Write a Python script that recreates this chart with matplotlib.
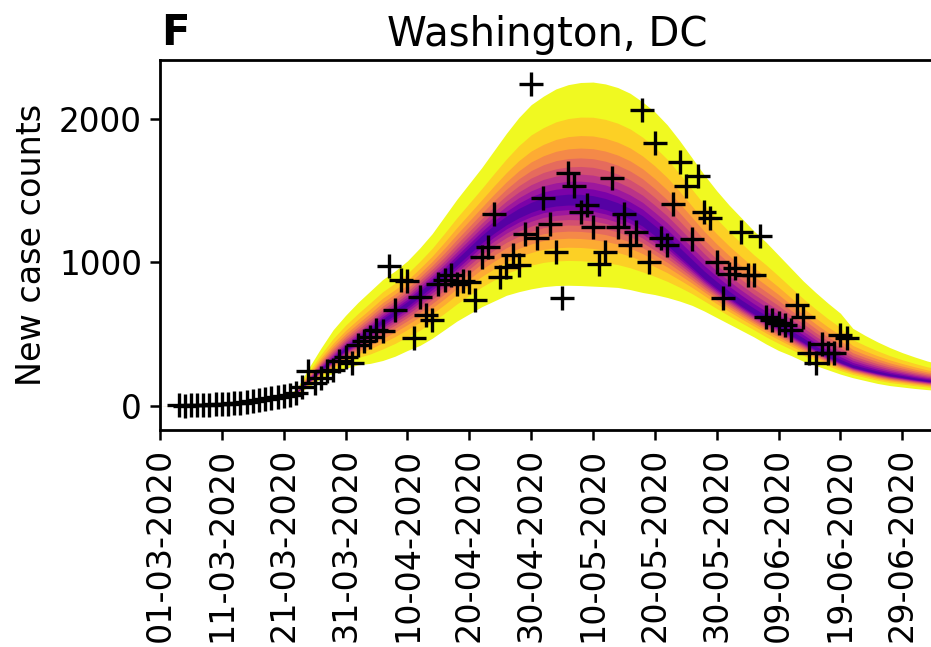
import numpy as np
import pandas as pd
import matplotlib
matplotlib.use("Agg")
import matplotlib.pyplot as plt

# daily new cases, starting 04-03-2020
case_start = "2020-03-04"
case_counts = [
    2, 0, 2, 3, 5, 6, 8, 10, 12, 16,
    20, 25, 30, 40, 45, 55, 60, 70, 75, 85,
    130, 240, 160, 190, 240, 250, 310, 340, 300, 420,
    450, 480, 530, 520, 975, 670, 880, 870, 470, 760,
    630, 600, 850, 880, 910, 850, 870, 860, 740, 1040,
    1110, 1340, 900, 970, 1050, 980, 1200, 2245, 1170, 1450,
    1270, 1075, 750, 1620, 1530, 1350, 1400, 1250, 990, 1075,
    1590, 1250, 1340, 1120, 1210, 2060, 1005, 1830, 1170, 1120,
    1410, 1700, 1530, 1160, 1600, 1350, 1310, 1000, 750, 920,
    960, 1210, 910, 910, 1185, 620, 600, 575, 560, 530,
    700, 620, 370, 300, 430, 365, 365, 490, 470,
]

# forecast quantile envelope (days after 01-03-2020)
band_day = [0, 4, 8, 12, 14, 16] + list(range(18, 128, 2))
band_upper = [0, 2, 5, 13, 25, 40,
              50, 75, 110, 260, 400, 530, 630, 720, 800, 880,
              940, 1010, 1100, 1200, 1320, 1440, 1550, 1660, 1780, 1900,
              2010, 2100, 2160, 2210, 2240, 2255, 2258, 2245, 2220, 2180,
              2120, 2050, 1960, 1850, 1730, 1610, 1500, 1400, 1310, 1220,
              1140, 1050, 960, 870, 790, 715, 645, 540, 490, 445,
              405, 370, 340, 312, 290]
band_median = [0, 1, 4, 10, 20, 32,
               45, 62, 90, 170, 250, 320, 395, 455, 520, 590,
               650, 710, 780, 850, 920, 1000, 1080, 1160, 1230, 1290,
               1340, 1380, 1410, 1425, 1432, 1430, 1420, 1400, 1370, 1330,
               1280, 1210, 1140, 1060, 980, 900, 830, 765, 705, 650,
               600, 555, 500, 450, 395, 345, 305, 272, 250, 230,
               213, 200, 186, 174, 165]
band_lower = [0, 1, 3, 8, 15, 25,
              40, 55, 80, 130, 190, 225, 260, 285, 295, 315,
              345, 385, 420, 470, 530, 590, 640, 690, 730, 770,
              795, 815, 830, 838, 840, 838, 834, 830, 825, 810,
              790, 775, 755, 730, 700, 660, 615, 570, 525, 480,
              430, 385, 350, 310, 280, 250, 220, 195, 175, 155,
              140, 130, 120, 112, 105]

# normal quantile z-scores for levels 1%, 5%, 10%, ..., 45%
quantile_z = [2.326, 1.645, 1.282, 1.036, 0.842, 0.674, 0.524, 0.385, 0.253, 0.126]

t0 = pd.Timestamp("2020-03-01")
tick_dates = pd.date_range("2020-03-01", "2020-06-29", freq="10D")

fig = plt.figure(figsize=(9.31, 6.47), dpi=100)
ax = fig.add_axes([160 / 931, 1 - 430 / 647, (935 - 160) / 931, (430 - 60) / 647])

bx = t0 + pd.to_timedelta(band_day, unit="D")
med = np.array(band_median, dtype=float)
up = np.array(band_upper, dtype=float)
lo = np.array(band_lower, dtype=float)
cols = plt.cm.plasma(np.linspace(1.0, 0.15, len(quantile_z)))
for z, c in zip(quantile_z, cols):
    f = z / quantile_z[0]
    ax.fill_between(bx, med - (med - lo) * f, med + (up - med) * f,
                    color=c, lw=0, zorder=2)

cx = pd.date_range(case_start, periods=len(case_counts), freq="D")
ax.plot(cx, case_counts, ls="none", marker="+", ms=17, mew=2.4,
        color="black", zorder=5)

ax.set_xlim(t0, t0 + pd.Timedelta(days=125.3))
ax.set_ylim(-170, 2412)
ax.set_yticks([0, 1000, 2000])
ax.set_xticks(tick_dates)
ax.set_xticklabels([d.strftime("%d-%m-%Y") for d in tick_dates], rotation=90)
ax.tick_params(length=7, width=1.8, pad=6)
ax.tick_params(axis="x", labelsize=24)
ax.tick_params(axis="y", labelsize=23.5)
for s in ax.spines.values():
    s.set_linewidth(2)

ax.set_ylabel("New case counts", fontsize=24, labelpad=8)
ax.set_title("Washington, DC", fontsize=29, pad=10)
fig.text(161 / 931, 1 - 45 / 647, "F", fontsize=30, fontweight="bold", va="baseline")

fig.savefig("out.png", dpi=100)
